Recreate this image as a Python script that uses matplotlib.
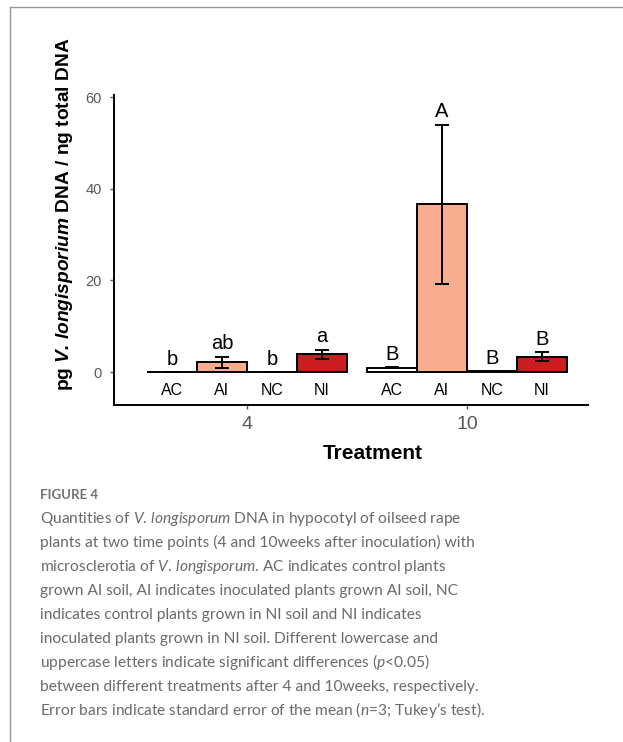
import matplotlib.pyplot as plt
from matplotlib.lines import Line2D

# qPCR results, pg fungal DNA per ng total DNA
categories = ['AC', 'AI', 'NC', 'NI']
weeks = ['4', '10']
means_4 = [0.0, 2.1, 0.0, 3.9]
sem_4 = [0.0, 1.25, 0.0, 0.95]
means_10 = [0.9, 36.6, 0.2, 3.3]
sem_10 = [0.1, 17.4, 0.05, 1.0]
letters_4 = ['b', 'ab', 'b', 'a']
letters_10 = ['B', 'A', 'B', 'B']

caption_lines = [
    r'Quantities of $\mathit{V.\,longisporum}$ DNA in hypocotyl of oilseed rape',
    'plants at two time points (4 and 10weeks after inoculation) with',
    r'microsclerotia of $\mathit{V.\,longisporum}$. AC indicates control plants',
    'grown AI soil, AI indicates inoculated plants grown AI soil, NC',
    'indicates control plants grown in NI soil and NI indicates',
    'inoculated plants grown in NI soil. Different lowercase and',
    r'uppercase letters indicate significant differences ($\mathit{p}$<0.05)',
    'between different treatments after 4 and 10weeks, respectively.',
    r'Error bars indicate standard error of the mean ($\mathit{n}$=3; Tukey’s test).',
]

plt.rcParams['font.family'] = 'Liberation Sans'
plt.rcParams['mathtext.fontset'] = 'custom'
plt.rcParams['mathtext.rm'] = 'Lato'
plt.rcParams['mathtext.it'] = 'Lato:italic'
plt.rcParams['mathtext.bf'] = 'Liberation Sans:bold'
plt.rcParams['mathtext.bfit'] = 'Liberation Sans:italic:bold'

W, H = 623, 742
fig = plt.figure(figsize=(W / 100, H / 100), dpi=100)
ax = fig.add_axes([114 / W, 1 - 405 / H, (588 - 114) / W, (405 - 95) / H])

bar_colors = ['white', '#f8ae8e', 'white', '#cb1d1f']
group_centres = [0.0, 4.4]
offsets = [-1.5, -0.5, 0.5, 1.5]

for centre, means, sems, letters in [(group_centres[0], means_4, sem_4, letters_4),
                                     (group_centres[1], means_10, sem_10, letters_10)]:
    xs = [centre + o for o in offsets]
    ax.bar(xs, means, width=1.0, color=bar_colors, edgecolor='black',
           linewidth=1.4, zorder=2)
    ax.errorbar(xs, means, yerr=sems, fmt='none', ecolor='black',
                elinewidth=1.4, capsize=5, capthick=1.4, zorder=3)
    for x, m, s, lab in zip(xs, means, sems, letters):
        ax.text(x, m + s + 1.6, lab, ha='center', va='baseline', fontsize=14.5)
    for x, c in zip(xs, categories):
        ax.text(x, -4.0, c, ha='center', va='center', fontsize=11.5)

ax.set_xlim(-2.66, 6.82)
ax.set_ylim(-7.2, 60.5)
ax.set_yticks([0, 20, 40, 60])
ax.set_xticks(group_centres, weeks)
for side in ['top', 'right']:
    ax.spines[side].set_visible(False)
for side in ['left', 'bottom']:
    ax.spines[side].set_linewidth(1.4)
ax.tick_params(axis='y', length=3, width=1, color='#555555',
               labelcolor='#595959', labelsize=10.5, pad=6)
ax.tick_params(axis='x', length=3, width=1, color='#555555',
               labelcolor='#595959', labelsize=14, pad=5)

fig.text(373 / W, 1 - 453 / H, 'Treatment', ha='center', va='center',
         fontsize=15, fontweight='bold')
fig.text(65 / W, 1 - 214 / H,
         r'pg $\mathbfit{V.\,longisporium}$ DNA / ng total DNA',
         rotation=90, ha='center', va='center', fontsize=13.8, fontweight='bold')

# page frame
fig.add_artist(Line2D([10 / W, 1], [1 - 7 / H, 1 - 7 / H], color='#9a9a9a', lw=1))
fig.add_artist(Line2D([10 / W, 10 / W], [0, 1 - 7 / H], color='#9a9a9a', lw=1))

# caption
fig.text(40 / W, 1 - 499 / H, 'FIGURE 4', family='Lato', fontweight='bold',
         color='#707070', fontsize=9.5, va='baseline')
for i, line in enumerate(caption_lines):
    fig.text(40 / W, 1 - (523 + 24 * i) / H, line, family='Lato',
             color='#6a6a6a', fontsize=11.2, va='baseline')

fig.savefig('out.png', dpi=100)
